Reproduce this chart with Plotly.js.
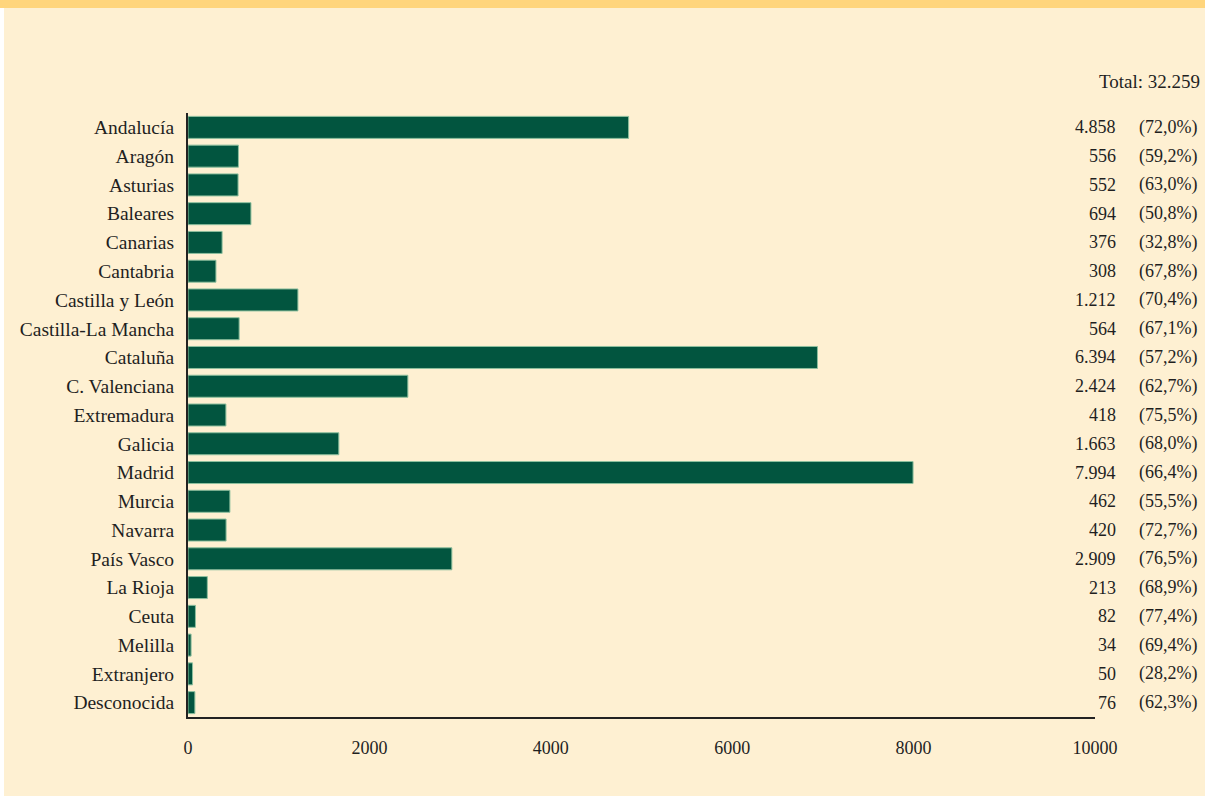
<!DOCTYPE html>
<html>
<head>
<meta charset="utf-8">
<script src="https://cdn.plot.ly/plotly-3.0.1.min.js"></script>
<style>
  html, body { margin: 0; padding: 0; background: #ffffff; }
  #wrap { position: absolute; left: 0; top: 0; width: 1205px; height: 796px; background: #ffffff; }
  #band { position: absolute; left: 0; top: 0; width: 1205px; height: 8px; background: #FFD57C; }
  #chart { position: absolute; left: 4px; top: 8px; width: 1201px; height: 788px; }
</style>
</head>
<body>
<div id="wrap"><div id="band"></div><div id="chart"></div></div>
<script>
const regions = ['Andalucía','Aragón','Asturias','Baleares','Canarias','Cantabria','Castilla y León','Castilla-La Mancha','Cataluña','C. Valenciana','Extremadura','Galicia','Madrid','Murcia','Navarra','País Vasco','La Rioja','Ceuta','Melilla','Extranjero','Desconocida'];
const barValues = [4858,556,552,694,376,308,1212,564,6940,2424,418,1663,7994,462,420,2909,213,82,34,50,76];
const valueLabels = ['4.858','556','552','694','376','308','1.212','564','6.394','2.424','418','1.663','7.994','462','420','2.909','213','82','34','50','76'];
const pctLabels = ['(72,0%)','(59,2%)','(63,0%)','(50,8%)','(32,8%)','(67,8%)','(70,4%)','(67,1%)','(57,2%)','(62,7%)','(75,5%)','(68,0%)','(66,4%)','(55,5%)','(72,7%)','(76,5%)','(68,9%)','(77,4%)','(69,4%)','(28,2%)','(62,3%)'];
const totalLabel = 'Total: 32.259';
const xTicks = [0,2000,4000,6000,8000,10000];

const FONT = 'Liberation Serif, DejaVu Serif, serif';
const TXT = '#1f1f1f';

const trace = {
  type: 'bar',
  orientation: 'h',
  y: regions,
  x: barValues,
  marker: { color: '#02553F', line: { color: '#8dbf9e', width: 1 } },
  hoverinfo: 'skip'
};

const annotations = [];
regions.forEach((r, i) => {
  annotations.push({ xref: 'paper', yref: 'y', x: 1.0255, y: r, text: valueLabels[i], showarrow: false,
    xanchor: 'right', yanchor: 'middle', font: { family: FONT, size: 18, color: TXT } });
  annotations.push({ xref: 'paper', yref: 'y', x: 1.0465, y: r, text: pctLabels[i], showarrow: false,
    xanchor: 'left', yanchor: 'middle', font: { family: FONT, size: 18, color: TXT } });
});
annotations.push({ xref: 'paper', yref: 'paper', x: 1.1185, y: 1.052, text: totalLabel, showarrow: false,
  xanchor: 'right', yanchor: 'middle', font: { family: FONT, size: 19, color: TXT } });

const layout = {
  width: 1201, height: 788,
  margin: { l: 184, r: 110, t: 105, b: 79, pad: 0 },
  paper_bgcolor: '#FEF0D2',
  plot_bgcolor: '#FEF0D2',
  showlegend: false,
  bargap: 0.235,
  font: { family: FONT, color: TXT },
  xaxis: {
    range: [0, 10000], tickvals: xTicks, ticktext: xTicks.map(String),
    showgrid: false, zeroline: false, showline: true, linecolor: '#222', linewidth: 2,
    ticks: 'outside', ticklen: 13, tickcolor: 'rgba(0,0,0,0)',
    tickfont: { family: FONT, size: 18, color: TXT }, fixedrange: true
  },
  yaxis: {
    type: 'category', range: [20.5, -0.5],
    showgrid: false, zeroline: false, showline: true, linecolor: '#222', linewidth: 2,
    ticks: 'outside', ticklen: 8, tickcolor: 'rgba(0,0,0,0)',
    tickfont: { family: FONT, size: 19.5, color: TXT }, fixedrange: true
  },
  annotations: annotations
};

Plotly.newPlot('chart', [trace], layout, { displayModeBar: false, staticPlot: true });
</script>
</body>
</html>
